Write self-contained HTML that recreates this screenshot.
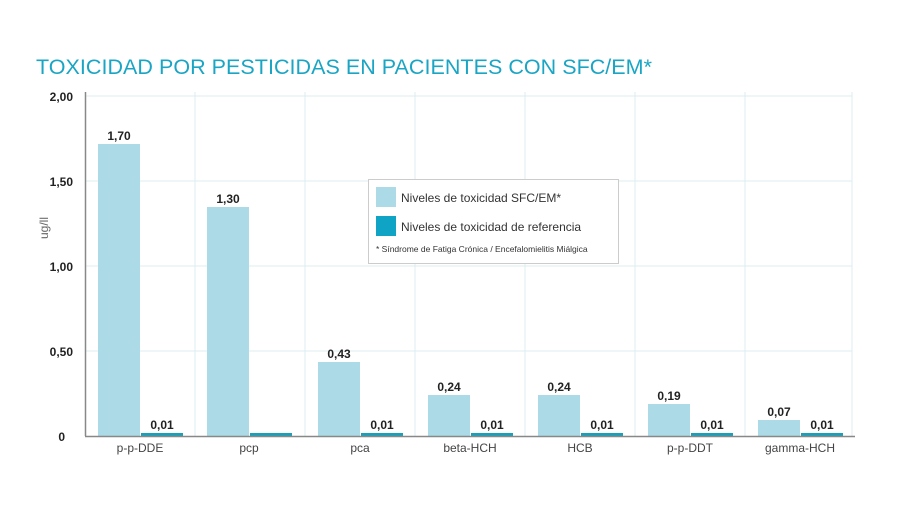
<!DOCTYPE html>
<html><head><meta charset="utf-8"><style>
body{margin:0;background:#fff;}
svg text{font-family:"Liberation Sans",sans-serif;}
</style></head><body>
<svg width="900" height="506" xmlns="http://www.w3.org/2000/svg">
<rect width="900" height="506" fill="#fff"/>
<text x="36" y="74" font-size="21.5" fill="#1aa5c4" textLength="616">TOXICIDAD POR PESTICIDAS EN PACIENTES CON SFC/EM*</text>
<g stroke="#dceef2" stroke-width="1">
<line x1="86" y1="96" x2="852" y2="96"/>
<line x1="86" y1="181" x2="852" y2="181"/>
<line x1="86" y1="266" x2="852" y2="266"/>
<line x1="86" y1="351" x2="852" y2="351"/>
<line x1="195" y1="92" x2="195" y2="436"/>
<line x1="305" y1="92" x2="305" y2="436"/>
<line x1="415" y1="92" x2="415" y2="436"/>
<line x1="525" y1="92" x2="525" y2="436"/>
<line x1="635" y1="92" x2="635" y2="436"/>
<line x1="745" y1="92" x2="745" y2="436"/>
<line x1="852" y1="92" x2="852" y2="436"/>
</g>
<g font-size="12" font-weight="bold" fill="#222" text-anchor="end">
<text x="73" y="101">2,00</text><text x="73" y="186">1,50</text><text x="73" y="271">1,00</text><text x="73" y="356">0,50</text><text x="65" y="441">0</text>
</g>
<text transform="translate(48,228) rotate(-90)" font-size="12" fill="#666" text-anchor="middle">ug/ll</text>
<g fill="#acdae6">
<rect x="98" y="144" width="42" height="292"/>
<rect x="207" y="207" width="42" height="229"/>
<rect x="318" y="362" width="42" height="74"/>
<rect x="428" y="395" width="42" height="41"/>
<rect x="538" y="395" width="42" height="41"/>
<rect x="648" y="404" width="42" height="32"/>
<rect x="758" y="420" width="42" height="16"/>
</g>
<g fill="#1a9fb8">
<rect x="141" y="433" width="42" height="3"/>
<rect x="250" y="433" width="42" height="3"/>
<rect x="361" y="433" width="42" height="3"/>
<rect x="471" y="433" width="42" height="3"/>
<rect x="581" y="433" width="42" height="3"/>
<rect x="691" y="433" width="42" height="3"/>
<rect x="801" y="433" width="42" height="3"/>
</g>
<line x1="85.5" y1="92" x2="85.5" y2="436" stroke="#888" stroke-width="1.5"/>
<line x1="85" y1="436.5" x2="855" y2="436.5" stroke="#888" stroke-width="1.5"/>
<g font-size="12" font-weight="bold" fill="#222" text-anchor="middle">
<text x="119" y="140">1,70</text><text x="228" y="203">1,30</text><text x="339" y="358">0,43</text>
<text x="449" y="391">0,24</text><text x="559" y="391">0,24</text><text x="669" y="400">0,19</text><text x="779" y="416">0,07</text>
<text x="162" y="429">0,01</text><text x="382" y="429">0,01</text><text x="492" y="429">0,01</text>
<text x="602" y="429">0,01</text><text x="712" y="429">0,01</text><text x="822" y="429">0,01</text>
</g>
<g font-size="12" fill="#444" text-anchor="middle">
<text x="140" y="452">p-p-DDE</text><text x="249" y="452">pcp</text><text x="360" y="452">pca</text>
<text x="470" y="452">beta-HCH</text><text x="580" y="452">HCB</text><text x="690" y="452">p-p-DDT</text><text x="800" y="452">gamma-HCH</text>
</g>
<rect x="368.5" y="179.5" width="250" height="84" fill="#fff" stroke="#ccc"/>
<rect x="376" y="187" width="20" height="20" fill="#acdae6"/>
<rect x="376" y="216" width="20" height="20" fill="#0fa3c6"/>
<text x="401" y="202" font-size="12" fill="#333">Niveles de toxicidad SFC/EM*</text>
<text x="401" y="231" font-size="12" fill="#333">Niveles de toxicidad de referencia</text>
<text x="376" y="252" font-size="8.5" fill="#333">* Síndrome de Fatiga Crónica / Encefalomielitis Miálgica</text>
</svg>
</body></html>
